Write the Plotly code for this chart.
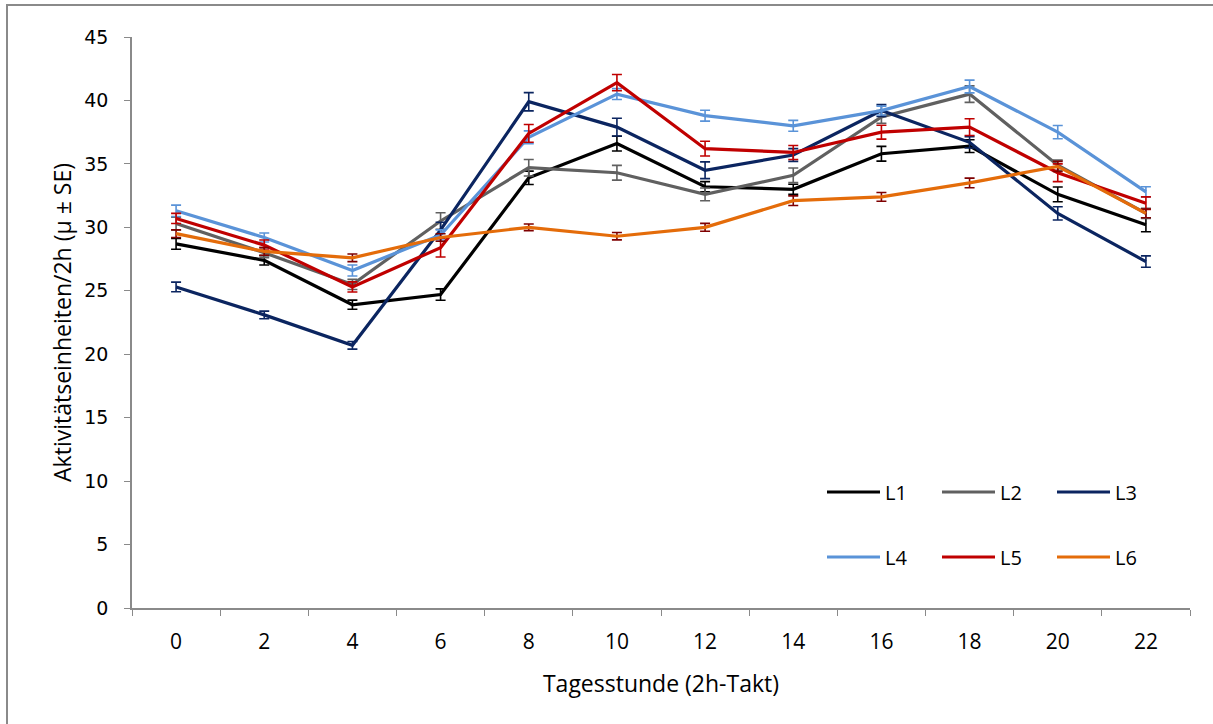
import plotly.graph_objects as go

hours = ["0", "2", "4", "6", "8", "10", "12", "14", "16", "18", "20", "22"]

L1 = [28.7, 27.4, 23.9, 24.7, 33.9, 36.6, 33.2, 33.0, 35.8, 36.4, 32.6, 30.2]
L2 = [30.3, 28.0, 25.5, 30.5, 34.7, 34.3, 32.6, 34.1, 38.7, 40.5, 34.9, 31.1]
L3 = [25.3, 23.1, 20.7, 29.8, 39.9, 37.9, 34.5, 35.7, 39.2, 36.7, 31.1, 27.3]
L4 = [31.3, 29.2, 26.6, 29.4, 37.1, 40.5, 38.8, 38.0, 39.2, 41.1, 37.5, 32.8]
L5 = [30.7, 28.6, 25.3, 28.4, 37.4, 41.4, 36.2, 35.9, 37.5, 37.9, 34.3, 31.9]
L6 = [29.5, 28.1, 27.6, 29.2, 30.0, 29.3, 30.0, 32.1, 32.4, 33.5, 34.8, 31.1]

SE1 = [0.43, 0.37, 0.36, 0.45, 0.53, 0.58, 0.40, 0.40, 0.58, 0.50, 0.58, 0.55]
SE2 = [0.50, 0.40, 0.40, 0.65, 0.65, 0.58, 0.50, 0.58, 0.50, 0.65, 0.40, 0.40]
SE3 = [0.38, 0.30, 0.30, 0.60, 0.72, 0.70, 0.66, 0.50, 0.47, 0.45, 0.52, 0.45]
SE4 = [0.45, 0.35, 0.43, 0.40, 0.50, 0.43, 0.43, 0.43, 0.35, 0.50, 0.52, 0.40]
SE5 = [0.40, 0.40, 0.40, 0.74, 0.70, 0.64, 0.58, 0.55, 0.55, 0.66, 0.70, 0.50]
SE6 = [0.30, 0.30, 0.30, 0.30, 0.26, 0.29, 0.31, 0.38, 0.34, 0.38, 0.40, 0.35]

names = ["L1", "L2", "L3", "L4", "L5", "L6"]
values = [L1, L2, L3, L4, L5, L6]
errors = [SE1, SE2, SE3, SE4, SE5, SE6]
line_colors = ["#000000", "#606060", "#0b2560", "#5a93d8", "#c00000", "#e46c0a"]
err_colors = ["#000000", "#606060", "#0b2560", "#5a93d8", "#c00000", "#7f0000"]
legend_ids = ["legend", "legend", "legend", "legend2", "legend2", "legend2"]

fig = go.Figure()
for n, v, e, lc, ec, lg in zip(names, values, errors, line_colors, err_colors, legend_ids):
    fig.add_trace(go.Scatter(
        x=hours, y=v, name=n, mode="lines",
        line=dict(color=lc, width=3.2),
        error_y=dict(type="data", array=e, visible=True, color=ec, thickness=1.6, width=5),
        legend=lg,
    ))

L, R, T, B = 132, 23, 37, 116
W, H = 1213, 724
pw, ph = W - L - R, H - T - B

def px(x):
    return (x - L) / pw

def py(y):
    return (H - B - y) / ph

fig.add_shape(type="rect", xref="paper", yref="paper",
              x0=px(7), x1=px(1240), y0=py(750), y1=py(5),
              line=dict(color="#8a8a8a", width=2), fillcolor="rgba(0,0,0,0)", layer="below")

FONT = "Open Sans, Lato, sans-serif"
leg_common = dict(orientation="h", entrywidth=47, entrywidthmode="pixels",
                  font=dict(family=FONT, size=20, color="#000000"),
                  bgcolor="rgba(0,0,0,0)", borderwidth=0, itemwidth=53,
                  xanchor="left", yanchor="middle", traceorder="normal")

fig.update_layout(
    width=W, height=H,
    margin=dict(l=L, r=R, t=T, b=B, autoexpand=False),
    paper_bgcolor="white", plot_bgcolor="white",
    showlegend=True,
    legend=dict(x=px(822), y=py(492), **leg_common),
    legend2=dict(x=px(822), y=py(557), **leg_common),
    xaxis=dict(
        type="category", range=[-0.5, 11.5], tickson="boundaries", ticks="outside", ticklen=6,
        tickcolor="#8a8a8a", showline=True, linecolor="#8a8a8a", linewidth=1.5,
        showgrid=False, zeroline=False, automargin=False,
        tickfont=dict(family=FONT, size=21, color="#000000"),
        ticklabelstandoff=14,
        title=dict(text="Tagesstunde (2h-Takt)", standoff=22,
                   font=dict(family=FONT, size=23, color="#000000")),
    ),
    yaxis=dict(
        range=[0, 45], tickvals=[0, 5, 10, 15, 20, 25, 30, 35, 40, 45],
        ticks="outside", ticklen=6, tickcolor="#8a8a8a",
        showline=True, linecolor="#8a8a8a", linewidth=1.5,
        showgrid=False, zeroline=False, automargin=False,
        tickfont=dict(family="DejaVu Sans, sans-serif", size=19, color="#000000"),
        ticklabelstandoff=12,
        title=dict(text="Aktivitätseinheiten/2h (µ ± SE)", standoff=6,
                   font=dict(family=FONT, size=23, color="#000000")),
    ),
)

fig.write_html("out.html")
